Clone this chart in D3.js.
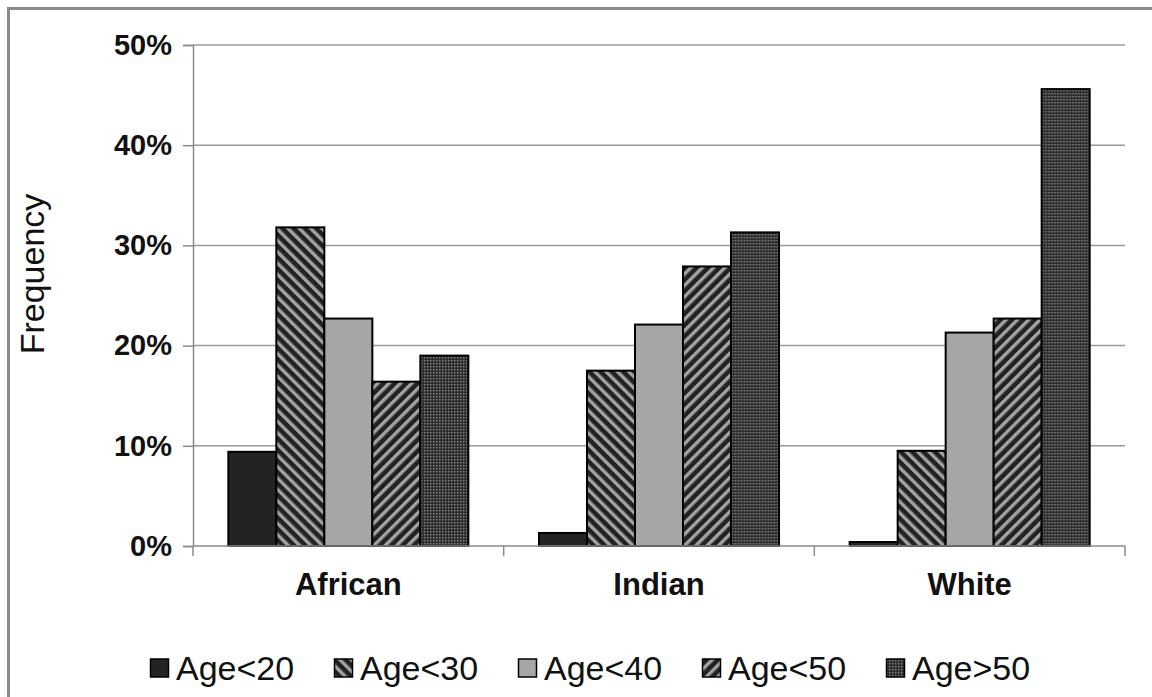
<!DOCTYPE html>
<html>
<head>
<meta charset="utf-8">
<script src="https://cdn.jsdelivr.net/npm/d3@7"></script>
<style>
  html, body { margin: 0; padding: 0; background: #fff; }
  svg { display: block; }
</style>
</head>
<body>
<svg id="chart" width="1152" height="697"></svg>
<script>
// Frequency of age groups by population group (percent)
const categories = ["African", "Indian", "White"];
const seriesNames = ["Age<20", "Age<30", "Age<40", "Age<50", "Age>50"];
const age20 = [9.4, 1.3, 0.4];
const age30 = [31.8, 17.5, 9.5];
const age40 = [22.7, 22.1, 21.3];
const age50 = [16.4, 27.9, 22.7];
const age50plus = [19.0, 31.3, 45.6];
const yTicks = [0, 10, 20, 30, 40, 50];

const seriesValues = [age20, age30, age40, age50, age50plus];
const fills = ["#232323", "url(#hatchBack)", "#a6a6a6", "url(#hatchFwd)", "url(#dots)"];

const svg = d3.select("#chart");
const W = 1152, H = 697;
const plot = { left: 193, right: 1125, top: 45, bottom: 546 };

// Fill patterns
const defs = svg.append("defs");
function hatch(id, angle) {
  const p = defs.append("pattern")
    .attr("id", id).attr("patternUnits", "userSpaceOnUse")
    .attr("width", 8).attr("height", 8)
    .attr("patternTransform", `rotate(${angle})`);
  p.append("rect").attr("width", 8).attr("height", 8).attr("fill", "#222");
  p.append("rect").attr("x", 0).attr("width", 3.4).attr("height", 8).attr("fill", "#a3a3a3");
}
hatch("hatchBack", -45);
hatch("hatchFwd", 45);
const dp = defs.append("pattern")
  .attr("id", "dots").attr("patternUnits", "userSpaceOnUse")
  .attr("width", 3).attr("height", 3);
dp.append("rect").attr("width", 3).attr("height", 3).attr("fill", "#2e2e2e");
dp.append("rect").attr("width", 1.4).attr("height", 1.4).attr("fill", "#858585");

// Outer frame
svg.append("rect").attr("x", 8.5).attr("y", 8.5)
  .attr("width", W + 10).attr("height", H + 10)
  .attr("fill", "none").attr("stroke", "#8a8a8a").attr("stroke-width", 3);

// Scales
const x0 = d3.scaleBand(categories, [plot.left, plot.right]).paddingInner(0).paddingOuter(0);
const x1 = d3.scaleBand(seriesNames, [0, x0.bandwidth()]).paddingInner(0).paddingOuter(0.736);
const y = d3.scaleLinear([0, 50], [plot.bottom, plot.top]);

// Gridlines
svg.append("g").selectAll("line").data(yTicks.filter(d => d > 0)).join("line")
  .attr("x1", plot.left).attr("x2", plot.right)
  .attr("y1", d => y(d)).attr("y2", d => y(d))
  .attr("stroke", "#9a9a9a").attr("stroke-width", 1.5);

// Y axis
const yAxis = svg.append("g")
  .attr("transform", `translate(${plot.left},0)`)
  .call(d3.axisLeft(y).tickValues(yTicks).tickFormat(d => d + "%").tickSize(10).tickPadding(11));
yAxis.select(".domain").attr("stroke", "#8a8a8a").attr("stroke-width", 1.5);
yAxis.selectAll(".tick line").attr("stroke", "#8a8a8a").attr("stroke-width", 1.5);
yAxis.selectAll(".tick text")
  .attr("font-family", "Liberation Sans, Arial, sans-serif")
  .attr("font-size", 29).attr("font-weight", "bold").attr("fill", "#111");

// Bars
const groups = svg.append("g").selectAll("g").data(categories).join("g")
  .attr("transform", c => `translate(${x0(c)},0)`);
groups.selectAll("rect")
  .data((c, ci) => seriesNames.map((s, si) => ({ s, si, v: seriesValues[si][ci] })))
  .join("rect")
  .attr("x", d => x1(d.s))
  .attr("width", x1.bandwidth())
  .attr("y", d => y(d.v))
  .attr("height", d => y(0) - y(d.v))
  .attr("fill", d => fills[d.si])
  .attr("stroke", "#000").attr("stroke-width", 2);

// X axis
const xAxis = svg.append("g")
  .attr("transform", `translate(0,${plot.bottom})`);
xAxis.append("line")
  .attr("x1", plot.left).attr("x2", plot.right)
  .attr("stroke", "#8a8a8a").attr("stroke-width", 1.5);
const boundaries = categories.map(c => x0(c)).concat([plot.right]);
xAxis.selectAll("line.tick").data(boundaries).join("line")
  .attr("class", "tick")
  .attr("x1", d => d).attr("x2", d => d)
  .attr("y1", 0).attr("y2", 10)
  .attr("stroke", "#8a8a8a").attr("stroke-width", 1.5);
xAxis.selectAll("text").data(categories).join("text")
  .attr("x", c => x0(c) + x0.bandwidth() / 2)
  .attr("y", 49)
  .attr("text-anchor", "middle")
  .attr("font-family", "Liberation Sans, Arial, sans-serif")
  .attr("font-size", 31).attr("font-weight", "bold").attr("fill", "#111")
  .text(c => c);

// Y axis title
svg.append("text")
  .attr("transform", "translate(44,274) rotate(-90)")
  .attr("text-anchor", "middle")
  .attr("font-family", "Liberation Sans, Arial, sans-serif")
  .attr("font-size", 34).attr("fill", "#111")
  .text("Frequency");

// Legend
const legend = svg.append("g").selectAll("g").data(seriesNames).join("g")
  .attr("transform", (d, i) => `translate(${150 + i * 184},0)`);
legend.append("rect")
  .attr("x", 0.5).attr("y", 659).attr("width", 18).attr("height", 18)
  .attr("fill", (d, i) => fills[i]).attr("stroke", "#000").attr("stroke-width", 1.5);
legend.append("text")
  .attr("x", 26).attr("y", 680)
  .attr("font-family", "Liberation Sans, Arial, sans-serif")
  .attr("font-size", 34).attr("fill", "#111")
  .text(d => d);
</script>
</body>
</html>
